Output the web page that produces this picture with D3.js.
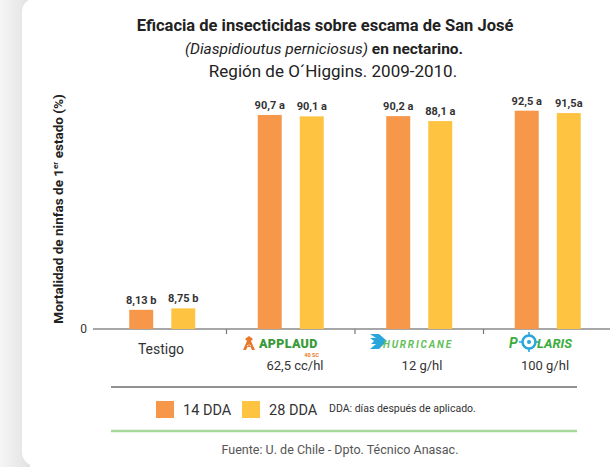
<!DOCTYPE html>
<html>
<head>
<meta charset="utf-8">
<script src="https://cdn.jsdelivr.net/npm/d3@7"></script>
<style>
  body { margin: 0; background: #fff; }
  svg { display: block; font-family: Roboto, "Open Sans", sans-serif; }
</style>
</head>
<body>
<div class="chart"></div>
<script>
// data
var categories = ["Testigo", "APPLAUD", "HURRICANE", "POLARIS"];
var doses = ["", "62,5 cc/hl", "12 g/hl", "100 g/hl"];
var series = ["14 DDA", "28 DDA"];
var dda14 = [8.13, 90.7, 90.2, 92.5];
var dda28 = [8.75, 90.1, 88.1, 91.5];
var labels14 = ["8,13 b", "90,7 a", "90,2 a", "92,5 a"];
var labels28 = ["8,75 b", "90,1 a", "88,1 a", "91,5a"];
var yTicks = [0];

var svgWidth = 610;
var svgHeight = 467;
var colors = { "14 DDA": "#f7974a", "28 DDA": "#fdc341" };

var svg = d3.select(".chart")
  .append("svg")
  .attr("width", svgWidth)
  .attr("height", svgHeight);

// card background with soft grey edge on the left
var defs = svg.append("defs");
var grad = defs.append("linearGradient").attr("id", "edge");
grad.append("stop").attr("offset", "0%").attr("stop-color", "#f5f5f5");
grad.append("stop").attr("offset", "100%").attr("stop-color", "#e2e2e2");

svg.append("rect")
  .attr("width", 30).attr("height", svgHeight)
  .attr("fill", "url(#edge)");
svg.append("rect")
  .attr("x", 22).attr("y", -2)
  .attr("width", svgWidth).attr("height", svgHeight + 1)
  .attr("rx", 14)
  .attr("fill", "#fff");

// title
var title = svg.append("text")
  .attr("text-anchor", "middle")
  .attr("fill", "#222");
title.append("tspan")
  .attr("x", 325).attr("y", 31)
  .attr("font-size", 16.5).attr("font-weight", "bold")
  .text("Eficacia de insecticidas sobre escama de San José");
var t2 = title.append("tspan").attr("x", 324).attr("y", 54).attr("font-size", 15.5);
t2.append("tspan").attr("font-style", "italic").text("(Diaspidioutus perniciosus)");
t2.append("tspan").attr("font-weight", "bold").text(" en nectarino.");
title.append("tspan")
  .attr("x", 333).attr("y", 77)
  .attr("font-size", 17)
  .text("Región de O´Higgins. 2009-2010.");

// scales
var x = d3.scaleBand()
  .domain(categories)
  .range([98, 612])
  .paddingInner(0);

var xs = d3.scaleBand()
  .domain(series)
  .range([-33, 33])
  .paddingInner(0.43);

var y = d3.scaleLinear()
  .domain([0, 100])
  .range([329, 93]);

// y axis, only the zero label
var leftAxis = d3.axisLeft(y).tickValues(yTicks).tickSize(0).tickPadding(6);
svg.append("g")
  .attr("transform", "translate(93,0)")
  .call(leftAxis)
  .call(g => g.select(".domain").remove())
  .call(g => g.selectAll("text").attr("font-size", 12).attr("fill", "#333")
    .attr("font-family", "Roboto, sans-serif"));

// baseline and separators
svg.append("line")
  .attr("x1", 93).attr("x2", svgWidth)
  .attr("y1", y(0)).attr("y2", y(0))
  .attr("stroke", "#8a8a8a").attr("stroke-width", 1.5);

svg.selectAll(".sep")
  .data(categories.slice(1))
  .enter().append("line")
  .attr("class", "sep")
  .attr("x1", d => x(d)).attr("x2", d => x(d))
  .attr("y1", y(0)).attr("y2", y(0) + 5)
  .attr("stroke", "#777").attr("stroke-width", 1.2);

// bars
var rows = [];
categories.forEach(function(c, i) {
  rows.push({ cat: c, s: series[0], v: dda14[i], label: labels14[i] });
  rows.push({ cat: c, s: series[1], v: dda28[i], label: labels28[i] });
});

var cx = d => x(d.cat) + x.bandwidth() / 2 + xs(d.s);

svg.selectAll(".bar")
  .data(rows)
  .enter().append("rect")
  .attr("class", "bar")
  .attr("x", cx)
  .attr("y", d => y(d.v))
  .attr("width", xs.bandwidth())
  .attr("height", d => y(0) - y(d.v))
  .attr("fill", d => colors[d.s]);

svg.selectAll(".val")
  .data(rows)
  .enter().append("text")
  .attr("class", "val")
  .attr("x", d => cx(d) + xs.bandwidth() / 2)
  .attr("y", d => y(d.v) - 6)
  .attr("text-anchor", "middle")
  .attr("font-size", 11)
  .attr("font-weight", "bold")
  .attr("fill", "#333")
  .text(d => d.label);

// category labels / product logos
svg.append("text")
  .attr("x", 161).attr("y", 354)
  .attr("text-anchor", "middle")
  .attr("font-size", 14).attr("fill", "#333")
  .text(categories[0]);

// APPLAUD
var ap = svg.append("g").attr("transform", "translate(243,336)");
ap.append("path")
  .attr("d", "M6,0 L2,3 L4,5 L0,14 L3,14 L6,8 L9,14 L12,14 L8,5 L10,3 Z M4,9 L8,9 L7,11 L5,11 Z")
  .attr("fill", "#e8782a");
ap.append("text")
  .attr("x", 16).attr("y", 12)
  .attr("font-size", 12.5).attr("font-weight", "900")
  .attr("fill", "#3a9a37").attr("letter-spacing", 0.3)
  .text("APPLAUD");
ap.append("text")
  .attr("x", 76).attr("y", 20.5)
  .attr("text-anchor", "end")
  .attr("font-size", 5.5).attr("font-weight", "bold")
  .attr("fill", "#e8782a")
  .text("40 SC");

// HURRICANE
var hu = svg.append("g").attr("transform", "translate(370,334)");
hu.append("path")
  .attr("d", "M0,0 L9,0 L17,7 L9,15 L0,15 L6,10 L1,10 L4,7 L0,4 L6,4 Z")
  .attr("fill", "#2aa6dd");
hu.append("text")
  .attr("x", 13).attr("y", 14)
  .attr("font-size", 10).attr("font-style", "italic").attr("font-weight", "bold")
  .attr("fill", "#63bf58").attr("letter-spacing", 1.8)
  .text("HURRICANE");

// POLARIS
var po = svg.append("g").attr("transform", "translate(509,333)");
po.append("text")
  .attr("x", 0).attr("y", 15)
  .attr("font-size", 14).attr("font-style", "italic").attr("font-weight", "bold")
  .attr("fill", "#3cad3c")
  .text("P");
po.append("circle")
  .attr("cx", 20).attr("cy", 9).attr("r", 6.5)
  .attr("fill", "none").attr("stroke", "#2aa6dd").attr("stroke-width", 2.5);
po.append("circle")
  .attr("cx", 20).attr("cy", 9).attr("r", 2)
  .attr("fill", "#2aa6dd");
po.append("path")
  .attr("d", "M20,-1 L20,2 M20,16 L20,19 M10,9 L13,9 M27,9 L30,9")
  .attr("stroke", "#2aa6dd").attr("stroke-width", 1.6);
po.append("text")
  .attr("x", 28).attr("y", 15)
  .attr("font-size", 13).attr("font-style", "italic").attr("font-weight", "bold")
  .attr("fill", "#3cad3c")
  .text("LARIS");

// doses
svg.selectAll(".dose")
  .data(categories.slice(1))
  .enter().append("text")
  .attr("class", "dose")
  .attr("x", (d, i) => [295, 422, 545][i])
  .attr("y", 370)
  .attr("text-anchor", "middle")
  .attr("font-size", 13).attr("fill", "#333")
  .text((d, i) => doses[i + 1]);

// y label
var yl = svg.append("text")
  .attr("transform", "translate(63,209) rotate(-90)")
  .attr("text-anchor", "middle")
  .attr("font-size", 13.5).attr("font-weight", "bold")
  .attr("fill", "#222");
yl.append("tspan").text("Mortalidad de ninfas de 1");
yl.append("tspan").attr("font-size", 8).attr("dy", -5).text("er");
yl.append("tspan").attr("dy", 5).text(" estado (%)");

// legend block
svg.append("line")
  .attr("x1", 111).attr("x2", 577).attr("y1", 387).attr("y2", 387)
  .attr("stroke", "#222").attr("stroke-width", 1);
svg.append("line")
  .attr("x1", 111).attr("x2", 577).attr("y1", 431).attr("y2", 431)
  .attr("stroke", "#a6d89c").attr("stroke-width", 2.5);

var legendX = [156, 242];
var leg = svg.selectAll(".leg")
  .data(series)
  .enter().append("g")
  .attr("class", "leg")
  .attr("transform", (d, i) => "translate(" + legendX[i] + ",401)");
leg.append("rect")
  .attr("width", 18).attr("height", 17)
  .attr("fill", d => colors[d]);
leg.append("text")
  .attr("x", 27).attr("y", 14)
  .attr("font-size", 14.5).attr("fill", "#333")
  .text(d => d);

svg.append("text")
  .attr("x", 329).attr("y", 412)
  .attr("font-size", 10.5).attr("fill", "#333")
  .text("DDA: días después de aplicado.");

svg.append("text")
  .attr("x", 340).attr("y", 454)
  .attr("text-anchor", "middle")
  .attr("font-size", 12.5).attr("fill", "#555")
  .text("Fuente: U. de Chile - Dpto. Técnico Anasac.");
</script>
</body>
</html>
